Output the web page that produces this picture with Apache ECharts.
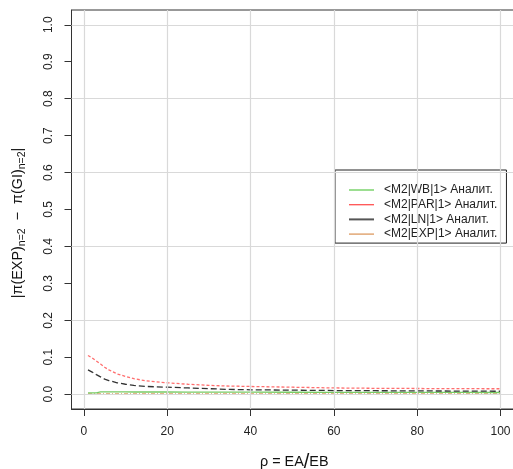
<!DOCTYPE html>
<html>
<head>
<meta charset="utf-8">
<script src="https://cdn.jsdelivr.net/npm/echarts@6/dist/echarts.min.js"></script>
<style>html,body{margin:0;padding:0;background:#fff}#c{width:513px;height:469px}</style>
</head>
<body>
<div id="c"></div>
<script>
// rho values (x)
const xs = [1, 2, 3, 4, 5, 6, 8, 10, 12, 15, 20, 25, 30, 35, 40, 50, 60, 70, 80, 90, 100];
// <M2|WB|1> Аналит.
const wb  = [0.0035, 0.0035, 0.0035, 0.0062, 0.0062, 0.0062, 0.0061, 0.0061, 0.006, 0.006, 0.006, 0.0058, 0.0057, 0.0056, 0.0055, 0.0053, 0.0051, 0.005, 0.0049, 0.0048, 0.0047];
// <M2|PAR|1> Аналит.
const par = [0.105, 0.098, 0.090, 0.082, 0.073, 0.066, 0.055, 0.048, 0.042, 0.036, 0.031, 0.027, 0.024, 0.022, 0.021, 0.019, 0.017, 0.016, 0.0155, 0.015, 0.0148];
// <M2|LN|1> Аналит.
const ln  = [0.066, 0.060, 0.053, 0.047, 0.041, 0.037, 0.031, 0.027, 0.024, 0.021, 0.019, 0.017, 0.015, 0.013, 0.012, 0.011, 0.010, 0.0095, 0.009, 0.0085, 0.008];
// <M2|EXP|1> Аналит.
const ex  = [0.0008, 0.0008, 0.0008, 0.0008, 0.0008, 0.0008, 0.0008, 0.0008, 0.0008, 0.0008, 0.0008, 0.0008, 0.0008, 0.0008, 0.0008, 0.0008, 0.0008, 0.0008, 0.0008, 0.0008, 0.0008];

const seriesNames = ['<M2|WB|1> Аналит.', '<M2|PAR|1> Аналит.', '<M2|LN|1> Аналит.', '<M2|EXP|1> Аналит.'];
const xTicks = [0, 20, 40, 60, 80, 100];
const yTicks = [0, 0.1, 0.2, 0.3, 0.4, 0.5, 0.6, 0.7, 0.8, 0.9, 1.0];
const yGrid = [0, 0.2, 0.4, 0.6, 0.8, 1.0];

const pairs = arr => xs.map((x, i) => [x, arr[i]]);
const FONT = 'Liberation Sans';
const C_WB = '#77cc66', C_PAR = '#ff5555', C_LN = '#333333', C_EXP = '#d9a066';

const chart = echarts.init(document.getElementById('c'), null, {renderer: 'canvas'});
chart.setOption({
  animation: false,
  backgroundColor: '#fff',
  textStyle: {fontFamily: FONT},
  grid: {left: 71.5, top: 10, width: 445.5, height: 399, outerBoundsMode: 'none', containLabel: false,
         show: true, borderColor: '#333', borderWidth: 1, backgroundColor: 'transparent'},
  legend: {
    orient: 'vertical', left: 335, top: 170,
    backgroundColor: '#fff', borderColor: '#222', borderWidth: 1,
    padding: [14, 9, 3, 13], itemGap: 2.7, itemWidth: 25, itemHeight: 14,
    textStyle: {fontFamily: FONT, fontSize: 12, color: '#222', padding: [0, 0, 0, 5]},
    data: [
      {name: seriesNames[0], itemStyle: {opacity: 0}, lineStyle: {type: 'solid', width: 1.3, color: '#66cc55'}},
      {name: seriesNames[1], itemStyle: {opacity: 0}, lineStyle: {type: 'solid', width: 1.3, color: '#ff3333'}},
      {name: seriesNames[2], itemStyle: {opacity: 0}, lineStyle: {type: 'solid', width: 2, color: '#555'}},
      {name: seriesNames[3], itemStyle: {opacity: 0}, lineStyle: {type: 'solid', width: 1.3, color: '#dd9a60'}}
    ]
  },
  xAxis: {
    type: 'value', min: -2.96, max: 103.96,
    axisLine: {show: true, onZero: false, lineStyle: {color: '#333', width: 1}},
    axisTick: {show: true, customValues: xTicks, length: 7, lineStyle: {color: '#333'}},
    axisLabel: {customValues: xTicks, margin: 17, fontSize: 12, color: '#222', fontFamily: FONT, formatter: v => String(v)},
    splitLine: {show: false},
    name: '{t|ρ = EA}{s|/}{t|EB}', nameLocation: 'middle', nameGap: 43,
    nameTextStyle: {rich: {t: {fontSize: 14.4, fontFamily: FONT, color: '#111'}, s: {fontSize: 20, fontFamily: FONT, color: '#111'}}}
  },
  yAxis: {
    type: 'value', min: -0.04, max: 1.04,
    axisLine: {show: true, onZero: false, lineStyle: {color: '#333', width: 1}},
    axisTick: {show: true, customValues: yTicks, length: 7, lineStyle: {color: '#333'}},
    axisLabel: {customValues: yTicks, margin: 17, rotate: 90, fontSize: 12, color: '#222', fontFamily: FONT, formatter: v => v.toFixed(1)},
    splitLine: {show: false}
  },
  graphic: [{
    type: 'text', x: 18, y: 223, rotation: Math.PI / 2,
    style: {
      text: '{m||π(EXP)}{b|n=2}{m|  −  π(GI)}{b|n=2}{m||}',
      align: 'center', verticalAlign: 'middle',
      rich: {
        m: {fontSize: 14.4, fontFamily: FONT, fill: '#111', lineHeight: 19, verticalAlign: 'middle'},
        b: {fontSize: 10.5, fontFamily: FONT, fill: '#111', lineHeight: 11, verticalAlign: 'bottom', padding: [7, 0, 0, 0]}
      }
    }
  }],
  series: [
    {
      name: 'grid', type: 'line', data: [], silent: true, z: 1,
      markLine: {
        silent: true, symbol: 'none', label: {show: false}, animation: false,
        lineStyle: {color: '#d9d9d9', width: 1.2, type: 'solid'},
        data: xTicks.map(v => ({xAxis: v})).concat(yGrid.map(v => ({yAxis: v})))
      }
    },
    {name: seriesNames[3], type: 'line', data: pairs(ex), showSymbol: false, symbol: 'none', z: 3, color: C_EXP,
     lineStyle: {color: C_EXP, width: 1.3, type: [4, 2, 1, 2]}},
    {name: seriesNames[0], type: 'line', data: pairs(wb), showSymbol: false, symbol: 'none', z: 3, color: C_WB,
     lineStyle: {color: C_WB, width: 1.3, type: 'solid'}},
    {name: seriesNames[2], type: 'line', data: pairs(ln), showSymbol: false, symbol: 'none', z: 3, color: C_LN,
     lineStyle: {color: C_LN, width: 1.3, type: [6, 3]}},
    {name: seriesNames[1], type: 'line', data: pairs(par), showSymbol: false, symbol: 'none', z: 3, color: C_PAR,
     lineStyle: {color: C_PAR, width: 1.3, type: [3, 2], opacity: 0.85}}
  ]
});
</script>
</body>
</html>
